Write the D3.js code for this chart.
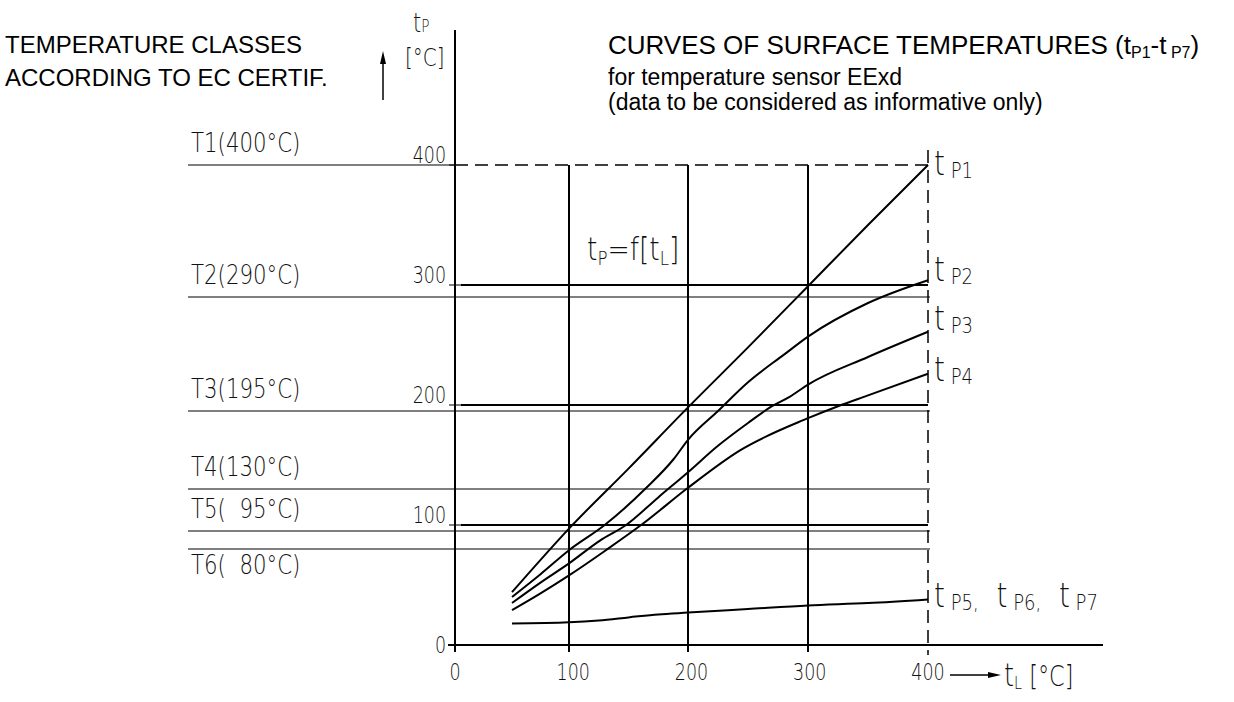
<!DOCTYPE html>
<html>
<head>
<meta charset="utf-8">
<script src="https://cdn.jsdelivr.net/npm/d3@7"></script>
<style>
body { margin: 0; background: #fff; }
svg { display: block; }
.cad { font-family: "DejaVu Sans"; font-weight: 200; white-space: pre; fill: #111; }
.arial { font-family: "Liberation Sans", Arial, sans-serif; fill: #000; white-space: pre; }
</style>
</head>
<body>
<svg id="chart"></svg>
<script>
const width = 1234, height = 702;

// axis ticks (same values on both axes)
const tickValues = [0, 100, 200, 300, 400];

// temperature classes
const classLabels = ["T1(400°C)", "T2(290°C)", "T3(195°C)", "T4(130°C)", "T5(  95°C)", "T6(  80°C)"];
const classTemps = [400, 290, 195, 130, 95, 80];

// curves [tL, tP]
const tP1 = [[50, 44], [100, 97], [150, 147], [200, 198], [250, 248], [300, 299], [350, 350], [400, 400]];
const tP2 = [[50, 40], [75, 59], [100, 79], [130, 100], [165, 131], [188, 155], [200, 171], [225, 195], [250, 219], [280, 242], [300, 257], [350, 285], [400, 304]];
const tP3 = [[50, 35], [75, 52], [100, 68], [126, 87], [148, 100], [175, 123], [200, 144], [225, 166], [250, 185], [270, 199], [285, 207], [300, 217], [350, 240], [400, 261]];
const tP4 = [[50, 29], [75, 43], [100, 58], [131, 79], [162, 101], [200, 131], [243, 162], [300, 189], [325, 199], [350, 208], [400, 226]];
const tP5 = [[50, 18], [100, 19], [125, 20.5], [150, 23], [175, 25.5], [200, 27], [250, 30], [300, 33], [350, 35], [400, 38]];
const curves = [tP1, tP2, tP3, tP4, tP5];
const curveSubs = [["P1"], ["P2"], ["P3"], ["P4"], ["P5,", "P6,", "P7"]];

const svg = d3.select("#chart").attr("width", width).attr("height", height);

const x = d3.scaleLinear().domain([0, 100, 200, 300, 400]).range([455, 569, 688, 808, 928]);
const y = d3.scaleLinear().domain([0, 400]).range([645, 165]);
const xl = d3.scaleLinear().domain([0, 400]).range([455, 928]); // tick label spacing

// CAD-like text: parts = [text, size, baseline offset]
function cad(px, py, parts, sx, anchor) {
    const t = svg.append("text")
        .attr("class", "cad")
        .attr("transform", `translate(${px},${py}) scale(${sx || 0.8},1)`)
        .attr("text-anchor", anchor || "start");
    let prev = 0;
    parts.forEach(p => {
        t.append("tspan")
            .attr("font-size", p[1])
            .attr("dy", (p[2] || 0) - prev)
            .text(p[0]);
        prev = p[2] || 0;
    });
    return t;
}

// temperature class lines
classTemps.forEach((v, i) => {
    svg.append("line")
        .attr("x1", 188).attr("x2", v === 400 ? x(0) : 930)
        .attr("y1", y(v)).attr("y2", y(v))
        .attr("stroke", "#555").attr("stroke-width", 1.3);
    const dy = i === classTemps.length - 1 ? 25 : -13;
    cad(191, y(v) + dy, [[classLabels[i], 26]], 0.82);
});

// horizontal grid 100..300
tickValues.filter(v => v > 0 && v < 400).forEach(v => {
    svg.append("line")
        .attr("x1", 449).attr("x2", 461).attr("y1", y(v)).attr("y2", y(v))
        .attr("stroke", "#000").attr("stroke-width", 1);
    svg.append("line")
        .attr("x1", 461).attr("x2", x(400)).attr("y1", y(v)).attr("y2", y(v))
        .attr("stroke", "#000").attr("stroke-width", 2);
});
// 400 dashed
svg.append("line")
    .attr("x1", x(0)).attr("x2", x(400)).attr("y1", y(400)).attr("y2", y(400))
    .attr("stroke", "#000").attr("stroke-width", 1.5).attr("stroke-dasharray", "13,7");
svg.append("line")
    .attr("x1", 449).attr("x2", x(0)).attr("y1", y(400)).attr("y2", y(400))
    .attr("stroke", "#000").attr("stroke-width", 1);

// vertical grid 100..300
tickValues.filter(v => v > 0 && v < 400).forEach(v => {
    svg.append("line")
        .attr("x1", x(v)).attr("x2", x(v)).attr("y1", y(400)).attr("y2", y(0) + 7)
        .attr("stroke", "#000").attr("stroke-width", 2);
});
svg.append("line")
    .attr("x1", x(400)).attr("x2", x(400)).attr("y1", 150).attr("y2", y(0) + 10)
    .attr("stroke", "#000").attr("stroke-width", 1.5).attr("stroke-dasharray", "13,7");

// axes
svg.append("line")
    .attr("x1", x(0)).attr("x2", x(0)).attr("y1", 30).attr("y2", y(0) + 7)
    .attr("stroke", "#000").attr("stroke-width", 2);
svg.append("line")
    .attr("x1", 448).attr("x2", 1103).attr("y1", y(0)).attr("y2", y(0))
    .attr("stroke", "#000").attr("stroke-width", 2);

// tick labels
tickValues.forEach(v => {
    cad(446, v === 0 ? y(v) + 8 : y(v) - 2, [[String(v), 23]], 0.76, "end");
    cad(xl(v), 680, [[String(v), 23]], 0.76, "middle");
});

// curves
const line = d3.line().x(d => x(d[0])).y(d => y(d[1])).curve(d3.curveMonotoneX);
svg.selectAll(".curve")
    .data(curves)
    .enter().append("path")
    .attr("class", "curve")
    .attr("d", line)
    .attr("fill", "none")
    .attr("stroke", "#000")
    .attr("stroke-width", 2);

// curve labels
const labelDy = [10, 1, -2, 7, 8];
curves.forEach((c, i) => {
    const last = c[c.length - 1];
    const parts = [];
    curveSubs[i].forEach((s, j) => {
        parts.push([(j > 0 ? "  " : "") + "t", 34, 0]);
        parts.push([" " + s, 22, 3]);
    });
    cad(x(last[0]) + 6, y(last[1]) + labelDy[i], parts, 0.82);
});

// formula label
cad(587, 260, [["t", 32, 0], ["P", 20, 5], ["=f[t", 32, 0], ["L", 20, 5], ["]", 32, 0]], 0.83);

// y axis title
svg.append("line").attr("x1", 383).attr("x2", 383).attr("y1", 100).attr("y2", 60)
    .attr("stroke", "#000").attr("stroke-width", 1.5);
svg.append("path").attr("d", "M383,51 L380,64 L386,64 Z").attr("fill", "#000");
cad(413, 32, [["t", 26, 0], ["P", 17, 0]], 0.8);
cad(405, 66, [["[°C]", 25, 0]], 0.8);

// x axis title
svg.append("line").attr("x1", 950).attr("x2", 992).attr("y1", 675).attr("y2", 675)
    .attr("stroke", "#000").attr("stroke-width", 1.5);
svg.append("path").attr("d", "M1001,675 L988,672 L988,678 Z").attr("fill", "#000");
cad(1004, 686, [["t", 32, 0], ["L", 18, 3], [" [°C]", 28, 0]], 0.8);

// headings
const left = svg.append("text").attr("class", "arial").attr("font-size", 24);
left.append("tspan").attr("x", 5).attr("y", 53).text("TEMPERATURE CLASSES");
left.append("tspan").attr("x", 5).attr("y", 86).text("ACCORDING TO EC CERTIF.");

const title = svg.append("text").attr("class", "arial").attr("x", 608).attr("y", 54).attr("font-size", 26);
title.append("tspan").text("CURVES OF SURFACE TEMPERATURES (t");
title.append("tspan").attr("font-size", 16).attr("dy", 4).text("P1");
title.append("tspan").attr("dy", -4).text("-t");
title.append("tspan").attr("font-size", 16).attr("dy", 4).text(" P7");
title.append("tspan").attr("dy", -4).text(")");

svg.append("text").attr("class", "arial").attr("x", 608).attr("y", 85).attr("font-size", 23)
    .text("for temperature sensor EExd");
svg.append("text").attr("class", "arial").attr("x", 608).attr("y", 110).attr("font-size", 23)
    .text("(data to be considered as informative only)");
</script>
</body>
</html>
